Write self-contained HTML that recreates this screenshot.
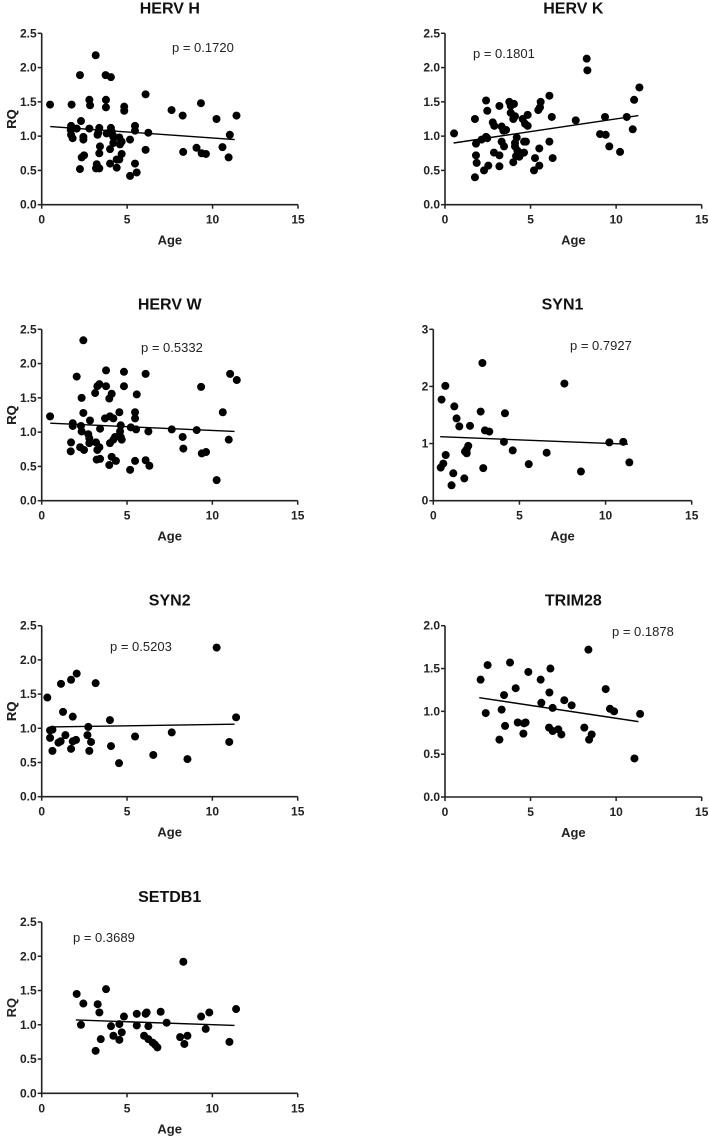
<!DOCTYPE html>
<html><head><meta charset="utf-8"><style>
html,body{margin:0;padding:0;background:#fff;}
svg{display:block;font-family:"Liberation Sans",Arial,sans-serif;}
</style></head><body>
<svg id="chart" width="709" height="1136" viewBox="0 0 709 1136"></svg>
<script>
// ---- data (Age, RQ) per panel ----
const hervHAge=[0.49,1.75,2.24,3.16,3.74,4.05,2.79,2.83,3.76,3.76,4.83,4.83,1.72,1.70,2.30,2.05,1.72,1.81,2.44,2.44,2.79,3.37,3.31,3.27,4.05,4.09,4.15,4.19,3.80,3.41,3.37,4.0,4.19,4.54,4.68,4.58,2.34,2.48,2.24,3.22,3.18,3.37,4.0,4.39,4.39,4.54,4.68,5.17,5.46,5.46,6.08,6.24,6.08,5.46,5.56,5.17,7.60,8.25,9.32,10.23,11.40,9.06,9.36,9.61,8.28,10.58,11.01,10.94];
const hervHRQ=[1.46,1.46,1.89,2.18,1.89,1.86,1.53,1.45,1.53,1.42,1.43,1.37,1.15,1.09,1.22,1.11,1.02,0.97,0.99,0.95,1.11,1.12,1.05,1.02,1.12,1.07,1.02,0.99,1.04,0.85,0.75,0.81,0.90,0.98,0.92,0.88,0.69,0.72,0.52,0.59,0.53,0.53,0.60,0.66,0.54,0.66,0.74,0.95,1.15,1.08,1.61,1.05,0.80,0.60,0.47,0.42,1.38,1.30,1.48,1.25,1.30,0.83,0.75,0.74,0.77,0.84,1.02,0.69];
const hervHFit=[[0.5,1.14],[11.3,0.95]];
const hervKAge=[0.53,1.75,1.81,1.81,1.85,1.75,2.14,2.40,2.47,2.28,2.53,2.40,2.47,2.79,2.88,2.86,3.18,3.18,3.18,3.31,3.41,3.31,3.45,3.57,3.76,3.84,4.03,3.84,4.09,3.99,4.09,4.19,4.09,4.23,3.99,4.15,4.34,4.48,4.62,4.62,4.73,4.54,4.68,4.83,4.83,5.26,5.20,5.51,5.51,5.45,5.55,5.59,6.10,6.10,6.24,6.29,7.64,8.28,8.32,9.06,9.39,9.35,9.60,10.23,10.62,10.97,11.05,11.36];
const hervKRQ=[1.04,1.25,0.89,0.72,0.61,0.40,0.95,0.99,0.97,0.50,0.57,1.52,1.37,1.20,1.15,0.76,1.44,0.72,0.56,1.14,1.08,0.92,0.85,1.09,1.50,1.44,1.47,1.34,1.29,1.25,0.90,0.98,0.85,0.79,0.62,0.71,0.70,0.75,0.76,0.92,0.92,1.25,1.18,1.31,1.15,0.68,0.50,0.57,0.82,1.38,1.42,1.50,0.92,1.59,1.28,0.68,1.23,2.13,1.96,1.03,1.02,1.28,0.85,0.77,1.28,1.10,1.53,1.71];
const hervKFit=[[0.5,0.90],[11.3,1.30]];
const hervWAge=[0.49,2.05,2.44,1.72,1.70,1.82,1.82,2.34,2.44,2.30,2.34,2.25,2.48,2.83,2.73,2.79,2.79,3.13,3.26,3.38,3.18,3.38,3.26,3.22,3.42,3.42,3.77,3.77,3.71,3.96,4.10,4.00,4.20,4.00,4.20,4.30,4.10,3.96,4.35,4.55,4.59,4.63,4.63,4.69,4.82,4.82,5.18,5.22,5.47,5.47,5.53,5.47,5.57,6.09,6.09,6.25,6.31,7.62,8.26,8.30,9.08,9.34,9.38,9.63,10.25,10.61,10.96,11.04,11.43];
const hervWRQ=[1.23,1.81,2.34,0.85,0.72,1.13,1.09,1.50,1.28,1.09,1.01,0.78,0.74,1.17,0.97,0.91,0.84,1.57,1.67,1.70,0.85,0.78,0.74,0.60,0.61,1.05,1.90,1.67,1.20,1.49,1.56,1.23,1.20,0.84,0.89,0.93,0.64,0.52,0.58,1.29,1.01,0.93,1.10,0.89,1.88,1.67,0.45,1.07,1.29,1.20,1.04,0.58,1.55,1.85,0.59,1.01,0.51,1.04,0.93,0.76,1.03,1.66,0.69,0.71,0.30,1.29,0.89,1.85,1.76];
const hervWFit=[[0.5,1.13],[11.3,1.01]];
const syn1Age=[0.43,0.58,0.48,0.70,0.72,1.16,1.06,1.22,1.35,1.51,1.84,1.94,2.03,2.13,1.80,1.94,2.75,2.85,2.90,3.00,3.25,4.10,4.16,4.61,5.54,6.58,7.61,8.57,10.22,11.03,11.38];
const syn1RQ=[0.58,0.65,1.77,2.01,0.80,0.48,0.27,1.65,1.44,1.30,0.86,0.90,0.96,1.31,0.39,0.83,1.56,2.41,0.57,1.23,1.21,1.03,1.53,0.88,0.64,0.84,2.05,0.51,1.02,1.03,0.67];
const syn1Fit=[[0.4,1.12],[11.3,0.99]];
const syn2Age=[0.33,0.49,0.63,0.49,0.63,0.98,1.11,1.13,1.25,1.39,1.72,1.72,1.82,1.82,2.01,2.05,2.68,2.73,2.79,2.89,3.16,4.00,4.06,4.53,5.47,6.54,7.62,8.54,10.25,10.99,11.39];
const syn2RQ=[1.45,0.97,0.98,0.86,0.67,0.79,0.81,1.65,1.24,0.90,1.71,0.70,1.17,0.81,0.83,1.80,0.90,1.02,0.67,0.80,1.66,1.12,0.74,0.49,0.88,0.61,0.94,0.55,2.18,0.80,1.16];
const syn2Fit=[[0.5,1.02],[11.3,1.06]];
const trim28Age=[2.08,2.38,2.49,3.18,3.31,3.45,3.51,3.80,4.13,4.25,4.58,4.62,4.71,4.87,5.59,5.63,6.10,6.16,6.08,6.29,6.29,6.62,6.80,6.97,7.40,8.14,8.38,8.42,8.57,9.39,9.64,9.88,11.07,11.40];
const trim28RQ=[1.37,0.98,1.54,0.67,1.02,1.19,0.83,1.57,1.27,0.87,0.74,0.86,0.87,1.46,1.37,1.10,1.22,1.50,0.81,0.77,1.04,0.79,0.73,1.13,1.07,0.81,1.72,0.67,0.73,1.26,1.03,1.00,0.45,0.97];
const trim28Fit=[[2.0,1.16],[11.3,0.88]];
const setdb1Age=[2.05,2.30,2.44,3.16,3.28,3.38,3.46,3.77,4.06,4.20,4.55,4.55,4.69,4.82,5.57,5.57,6.09,6.15,6.00,6.25,6.25,6.50,6.64,6.78,6.97,7.32,8.11,8.30,8.36,8.54,9.34,9.61,9.82,11.00,11.39];
const setdb1RQ=[1.45,1.00,1.31,0.62,1.30,1.18,0.79,1.52,0.98,0.84,1.01,0.78,0.89,1.12,1.16,0.99,1.16,1.18,0.84,0.98,0.79,0.74,0.71,0.67,1.19,1.03,0.82,1.92,0.72,0.84,1.12,0.94,1.18,0.75,1.23];
const setdb1Fit=[[2.0,1.07],[11.3,0.99]];
const xTickLabels=["0","5","10","15"];
const yTicksHalf=["0.0","0.5","1.0","1.5","2.0","2.5"];
const yTicksInt=["0","1","2","3"];
const yTicksTrim=["0.0","0.5","1.0","1.5","2.0"];
const pValues=["p = 0.1720","p = 0.1801","p = 0.5332","p = 0.7927","p = 0.5203","p = 0.1878","p = 0.3689"];
const titles=["HERV H","HERV K","HERV W","SYN1","SYN2","TRIM28","SETDB1"];

// ---- layout ----
const panels=[
 {key:"herv-h",x:hervHAge,y:hervHRQ,fit:hervHFit,yt:yTicksHalf,ymax:2.5,l:41.7,r:298,b:204.7,t:33.3,px:172,py:52},
 {key:"herv-k",x:hervKAge,y:hervKRQ,fit:hervKFit,yt:yTicksHalf,ymax:2.5,l:445,r:701.7,b:204.7,t:33.3,px:473,py:58},
 {key:"herv-w",x:hervWAge,y:hervWRQ,fit:hervWFit,yt:yTicksHalf,ymax:2.5,l:41.7,r:297.7,b:500.7,t:329.3,px:141,py:352},
 {key:"syn1",x:syn1Age,y:syn1RQ,fit:syn1Fit,yt:yTicksInt,ymax:3,l:433.3,r:691.7,b:500.7,t:329.3,px:570,py:350},
 {key:"syn2",x:syn2Age,y:syn2RQ,fit:syn2Fit,yt:yTicksHalf,ymax:2.5,l:41.7,r:297.7,b:796.7,t:625.7,px:110,py:651},
 {key:"trim28",x:trim28Age,y:trim28RQ,fit:trim28Fit,yt:yTicksTrim,ymax:2.0,l:445,r:701.7,b:797,t:625.7,px:612,py:636},
 {key:"setdb1",x:setdb1Age,y:setdb1RQ,fit:setdb1Fit,yt:yTicksHalf,ymax:2.5,l:41.7,r:297.7,b:1093.3,t:922,px:73,py:942}
];
const NS="http://www.w3.org/2000/svg";
const svg=document.getElementById('chart');
function mk(tag,attrs,parent,text){const e=document.createElementNS(NS,tag);for(const k in attrs)e.setAttribute(k,attrs[k]);if(text!==undefined)e.textContent=text;parent.appendChild(e);return e;}
panels.forEach((p,i)=>{
 const xs=v=>p.l+(v/15)*(p.r-p.l);
 const ys=v=>p.b-(v/p.ymax)*(p.b-p.t);
 const g=mk('g',{},svg);
 
 
 const cx=(p.l+p.r)/2;
 const tt=mk('text',{x:cx,y:p.t-20,'text-anchor':'middle','font-size':'16','font-weight':'bold',fill:'#111'},g,titles[i]);
 
 
 const ax=mk('path',{d:`M${p.l},${p.t}V${p.b}H${p.r}`,stroke:'#222','stroke-width':'1.6',fill:'none'},g);
 
 
 p.yt.forEach((lab,j)=>{
  const v=p.ymax*j/(p.yt.length-1);const yy=ys(v);
  mk('line',{x1:p.l-4,x2:p.l,y1:yy,y2:yy,stroke:'#222','stroke-width':'1.5'},g);
  const t=mk('text',{x:p.l-5,y:yy+4,'text-anchor':'end','font-size':'12','font-weight':'bold',fill:'#222'},g,lab);
  
  
 });
 xTickLabels.forEach(lab=>{
  const xx=xs(+lab);
  mk('line',{x1:xx,x2:xx,y1:p.b,y2:p.b+4,stroke:'#222','stroke-width':'1.5'},g);
  const t=mk('text',{x:xx,y:p.b+19,'text-anchor':'middle','font-size':'12','font-weight':'bold',fill:'#222'},g,lab);
  
  
 });
 const xl=mk('text',{x:cx,y:p.b+40,'text-anchor':'middle','font-size':'13','font-weight':'bold',fill:'#222'},g,'Age');
 
 
 const ym=(p.t+p.b)/2;
 const yl=mk('text',{x:16,y:ym,'text-anchor':'middle','font-size':'13','font-weight':'bold',fill:'#222',transform:`rotate(-90 16 ${ym})`},g,'RQ');
 
 
 p.x.forEach((v,j)=>{
  const c=mk('circle',{cx:xs(v),cy:ys(p.y[j]),r:4,fill:'#000'},g);
  
  
 });
 const f=mk('line',{x1:xs(p.fit[0][0]),y1:ys(p.fit[0][1]),x2:xs(p.fit[1][0]),y2:ys(p.fit[1][1]),stroke:'#000','stroke-width':'1.4'},g);
 
 
 const pv=mk('text',{x:p.px,y:p.py,'font-size':'13',fill:'#222'},g,pValues[i]);
 
 
});
</script>
</body></html>
